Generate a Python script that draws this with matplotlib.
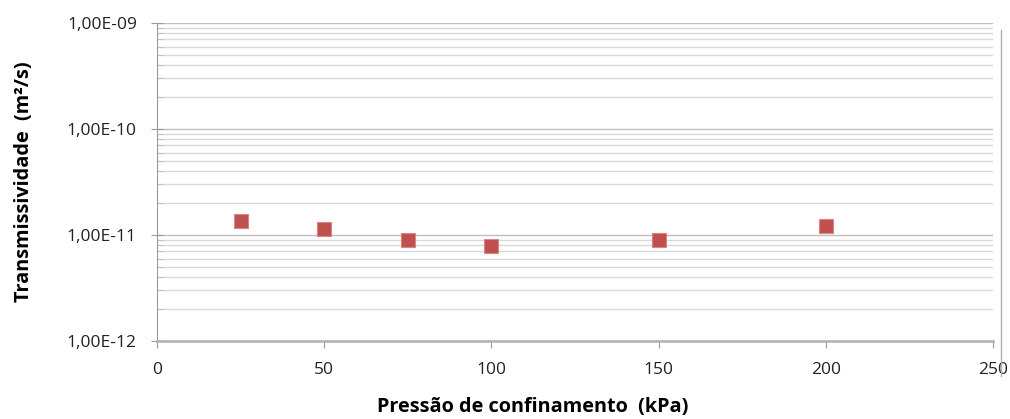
import numpy as np
import matplotlib.pyplot as plt
from matplotlib.ticker import LogLocator, FixedLocator, NullFormatter, FuncFormatter
from matplotlib.lines import Line2D

pressao = [25, 50, 75, 100, 150, 200]
transmissividade = [1.36e-11, 1.14e-11, 0.90e-11, 0.79e-11, 0.90e-11, 1.22e-11]

xticks = [0, 50, 100, 150, 200, 250]
yticks = [1e-12, 1e-11, 1e-10, 1e-9]

plt.rcParams['font.family'] = ['Open Sans', 'DejaVu Sans']

fig = plt.figure(figsize=(10.10, 4.19), dpi=100)
ax = fig.add_axes([157 / 1010, 1 - 341 / 419, 836 / 1010, 318 / 419])

ax.plot(pressao, transmissividade, linestyle="none", marker="s", markersize=10.5,
        markerfacecolor="#C0504D", markeredgecolor="#D88583", markeredgewidth=0.8, zorder=3)

ax.set_yscale("log")
ax.set_xlim(0, 250)
ax.set_ylim(1e-12, 1e-9)

ax.xaxis.set_major_locator(FixedLocator(xticks))
ax.yaxis.set_major_locator(FixedLocator(yticks))
ax.yaxis.set_minor_locator(LogLocator(base=10, subs=np.arange(2, 10)))
ax.yaxis.set_minor_formatter(NullFormatter())
ax.yaxis.set_major_formatter(FuncFormatter(lambda v, p: ("%.2E" % v).replace(".", ",")))

ax.grid(True, which="major", axis="y", color="#BEBEBE", linewidth=1.0)
ax.grid(True, which="minor", axis="y", color="#D9D9D9", linewidth=1.0)

for side in ["top", "right"]:
    ax.spines[side].set_visible(False)
ax.spines["left"].set_color("#9A9A9A")
ax.spines["bottom"].set_color("#B0B0B0")
ax.spines["bottom"].set_linewidth(1.8)

ax.tick_params(axis="y", which="major", direction="inout", length=9, color="#9A9A9A",
               labelsize=12.5, labelcolor="#222222", pad=10)
ax.tick_params(axis="y", which="minor", direction="in", length=4, color="#BEBEBE")
ax.tick_params(axis="x", which="major", direction="out", length=5, color="#9A9A9A",
               labelsize=12.5, labelcolor="#222222", pad=10)

ax.set_xlabel("Pressão de confinamento  (kPa)", fontsize=14.3, fontweight="bold")
ax.xaxis.set_label_coords((533 - 157) / 836, -(397 - 341) / 318)
ax.set_ylabel("Transmissividade  (m²/s)", fontsize=14.3, fontweight="bold")
ax.yaxis.set_label_coords(-(157 - 34) / 836, 0.5)

fig.add_artist(Line2D([1001 / 1010, 1001 / 1010], [1 - 30 / 419, 1 - 376 / 419],
                      color="#B0B0B0", linewidth=1.0))

fig.savefig("out.png", dpi=100)
